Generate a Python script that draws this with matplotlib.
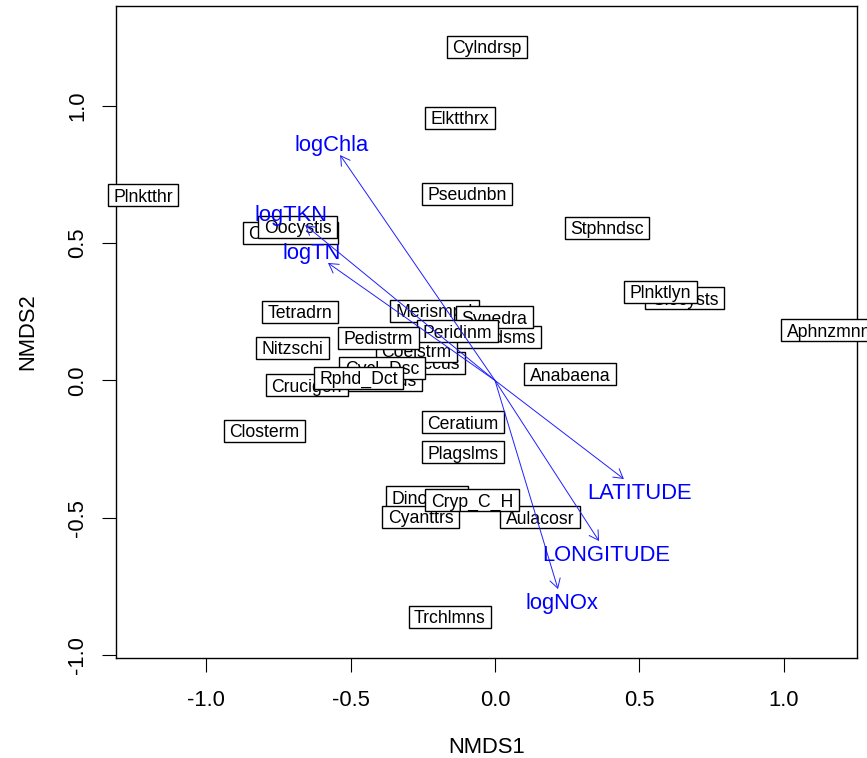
import matplotlib
matplotlib.use("Agg")
import matplotlib.pyplot as plt
import matplotlib.transforms as mtransforms
from matplotlib.patches import Rectangle
import numpy as np

plt.rcParams['font.family'] = ['Liberation Sans', 'DejaVu Sans']

# NMDS species scores (drawn in this order: later labels sit on top)
species = ["Cylndrsp", "Elktthrx", "Plnktthr", "Pseudnbn", "Stphndsc",
           "Chlmdmns", "Oocystis", "Tetradrn", "Merismpd", "Scendsms",
           "Synedra", "Chrcccus", "Coelstrm", "Peridinm", "Pedistrm",
           "Nitzschi", "Gomphnus", "Crucigen", "Cycl_Dsc", "Rphd_Dct",
           "Closterm", "Ceratium", "Plagslms", "Anabaena", "Dinobryn",
           "Cyanttrs", "Aulacosr", "Cryp_C_H", "Trchlmns", "Glocysts",
           "Plnktlyn", "Aphnzmnn"]
nmds1 = [-0.028, -0.121, -1.218, -0.097, 0.388,
         -0.709, -0.683, -0.675, -0.209, -0.003,
         -0.003, -0.250, -0.272, -0.130, -0.403,
         -0.701, -0.420, -0.651, -0.391, -0.472,
         -0.798, -0.111, -0.111, 0.260, -0.235,
         -0.258, 0.156, -0.080, -0.156, 0.656,
         0.573, 1.156]
nmds2 = [1.215, 0.956, 0.674, 0.679, 0.556,
         0.537, 0.559, 0.250, 0.253, 0.158,
         0.230, 0.064, 0.107, 0.179, 0.155,
         0.118, 0.002, -0.018, 0.046, 0.009,
         -0.184, -0.153, -0.262, 0.022, -0.426,
         -0.497, -0.499, -0.437, -0.862, 0.299,
         0.322, 0.182]

# Fitted environmental vectors (arrow heads)
env_vars = ["logChla", "logTKN", "logTN", "LATITUDE", "LONGITUDE", "logNOx"]
env_x = [-0.536, -0.657, -0.578, 0.446, 0.360, 0.218]
env_y = [0.821, 0.566, 0.428, -0.359, -0.585, -0.760]

x_ticks = [-1.0, -0.5, 0.0, 0.5, 1.0]
x_tick_labels = ["-1.0", "-0.5", "0.0", "0.5", "1.0"]
y_ticks = [-1.0, -0.5, 0.0, 0.5, 1.0]
y_tick_labels = ["-1.0", "-0.5", "0.0", "0.5", "1.0"]

DPI = 100
fig = plt.figure(figsize=(8.67, 7.58), dpi=DPI)
ax = fig.add_axes([0.13345, 0.13232, 0.85467, 0.86016])
ax.set_xlim(-1.3125, 1.2516)
ax.set_ylim(-1.010, 1.365)

AXIS_FS = 15.8
LABEL_FS = 12.7
CAP = 0.716  # cap height as a fraction of the font size

for s in ax.spines.values():
    s.set_linewidth(1.0)
    s.set_color("black")

ax.set_xticks(x_ticks, x_tick_labels)
ax.set_yticks(y_ticks, y_tick_labels)
ax.tick_params(direction="out", length=10, width=0.8, labelsize=AXIS_FS, color="black")
ax.tick_params(axis="x", pad=13)
ax.tick_params(axis="y", pad=10)
for lab in ax.get_yticklabels():
    lab.set_rotation(90)
    lab.set_va("center")

ax.set_xlabel("NMDS1", fontsize=AXIS_FS, va="center")
ax.xaxis.set_label_coords(0.5, -0.138)
ax.set_ylabel("NMDS2", fontsize=AXIS_FS, va="center", ha="center")
ax.yaxis.set_label_coords(-0.1184, 0.5)

renderer = fig.canvas.get_renderer()
to_px = mtransforms.Affine2D().scale(DPI / 72.0)

# Boxed species labels
pad_x = 3.96      # points
box_h = 15.84     # points
for i, (name, x, y) in enumerate(zip(species, nmds1, nmds2)):
    base = mtransforms.ScaledTranslation(x, y, ax.transData)
    tr = to_px + base
    z = 3 + i * 0.01
    t = ax.text(0, -CAP * LABEL_FS / 2, name, transform=tr, ha="center",
                va="baseline", fontsize=LABEL_FS, color="black",
                zorder=z + 0.005, clip_on=False)
    w = t.get_window_extent(renderer).width * 72.0 / DPI
    ax.add_patch(Rectangle((-w / 2 - pad_x, -box_h / 2), w + 2 * pad_x, box_h,
                           transform=tr, facecolor="white", edgecolor="black",
                           lw=1.0, zorder=z, clip_on=False))

# Environmental arrows from the origin
for vx, vy in zip(env_x, env_y):
    ax.annotate("", xy=(vx, vy), xytext=(0, 0),
                arrowprops=dict(arrowstyle="->,head_length=0.65,head_width=0.38",
                                color="#1f1fff", lw=0.7, shrinkA=0, shrinkB=0),
                zorder=10)

# Arrow labels placed beyond the arrow head, offset by the text size
p0 = ax.transData.transform((0, 0))
p1 = ax.transData.transform((1, 1))
sx, sy = p1[0] - p0[0], p1[1] - p0[1]
for name, vx, vy in zip(env_vars, env_x, env_y):
    tmp = ax.text(0, 0, name, fontsize=AXIS_FS)
    w_px = tmp.get_window_extent(renderer).width
    tmp.remove()
    h_px = CAP * AXIS_FS * DPI / 72.0
    w = w_px / sx
    h = h_px / sy
    b = vy / vx
    off_x = np.sign(vx) * (w / 2 + (h_px / 4) / sx)
    off_y = 0.75 * h * np.sign(vy)
    move = off_y / b
    if np.isfinite(move) and abs(move) <= abs(off_x):
        off_x = move
    else:
        off_y = b * off_x
    lx, ly = vx + off_x, vy + off_y
    tr = to_px + mtransforms.ScaledTranslation(lx, ly, ax.transData)
    ax.text(0, -CAP * AXIS_FS / 2, name, transform=tr, ha="center", va="baseline",
            fontsize=AXIS_FS, color="blue", zorder=11, clip_on=False)

fig.savefig("out.png", dpi=DPI)
